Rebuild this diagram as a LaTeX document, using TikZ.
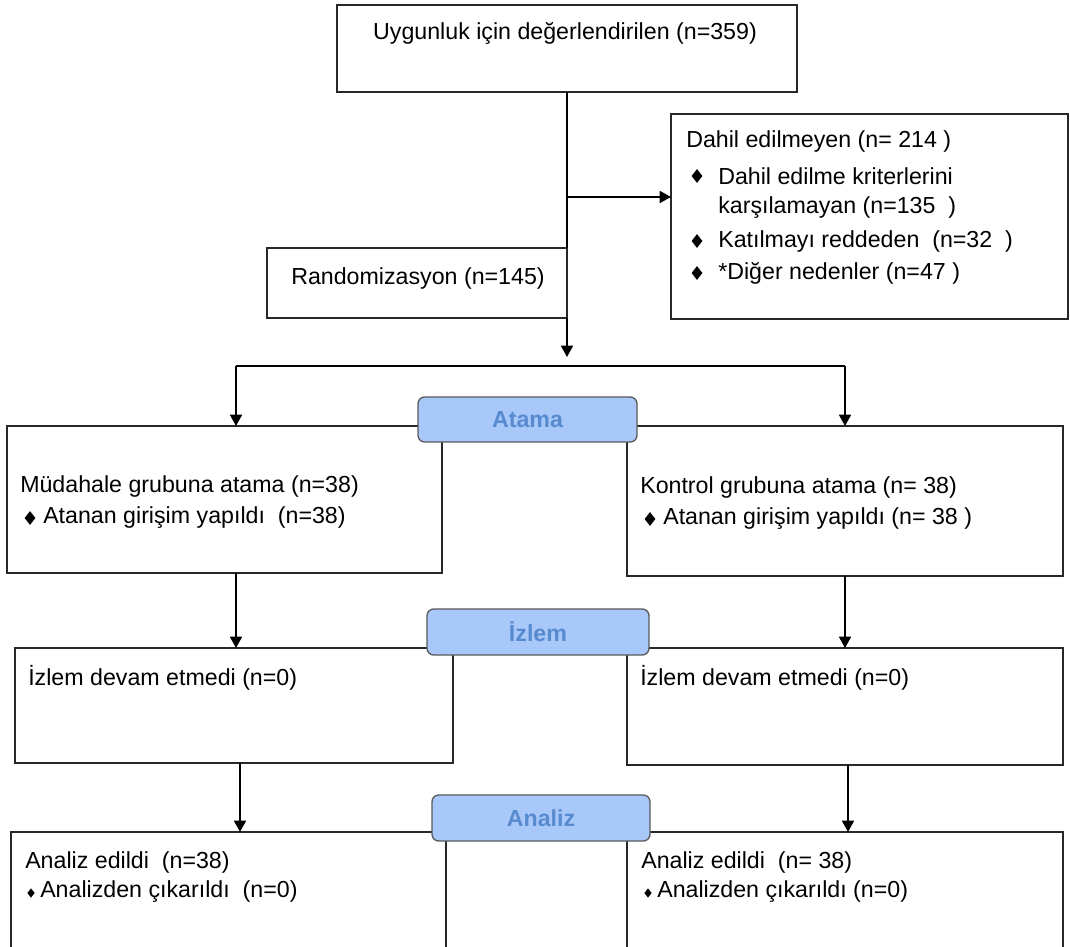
\documentclass[tikz,border=0pt]{standalone}
\usepackage{fontspec}
\setmainfont{Liberation Sans}
\usetikzlibrary{arrows.meta,shapes.geometric}
\definecolor{labfill}{RGB}{168,200,250}
\definecolor{labtext}{RGB}{88,138,208}
\definecolor{linecol}{RGB}{40,40,40}
\begin{document}
\begin{tikzpicture}[x=0.75pt,y=-0.75pt,
  font=\fontsize{17.4}{20}\selectfont,
  box/.style 2 args={draw=linecol,line width=1pt,inner sep=0pt,outer sep=0pt,minimum width=#1*0.75pt,minimum height=#2*0.75pt},
  lab/.style 2 args={draw=black!65,line width=1pt,fill=labfill,rounded corners=5pt,inner sep=0pt,outer sep=0pt,minimum width=#1*0.75pt,minimum height=#2*0.75pt,text=labtext,font=\fontsize{17.4}{20}\selectfont\bfseries},
  txt/.style={anchor=west,inner sep=0pt},
  bul/.style={diamond,fill=black,inner sep=0pt,minimum width=11*0.75pt,minimum height=14*0.75pt},
  sbul/.style={diamond,fill=black,inner sep=0pt,minimum width=7.5*0.75pt,minimum height=9.5*0.75pt},
  conn/.style={draw=black,line width=1.3pt},
  arr/.style={conn,-{Triangle[width=9pt,length=8.5pt]}}
]
\clip (0,0) rectangle (1070,946);
\useasboundingbox (0,0) rectangle (1070,946);

% boxes
\node[box={460}{87}] (top) at (567,48.5) {};
\node[box={397}{205}] (excl) at (869.5,216.5) {};
\node[box={300}{70}] (rand) at (417,283) {};
\node[box={435}{147}] (L1) at (224.5,499.5) {};
\node[box={436}{150}] (R1) at (845,501) {};
\node[box={438}{115}] (L2) at (234,705.5) {};
\node[box={436}{117}] (R2) at (845,706.5) {};
\node[box={435}{128}] (L3) at (228.5,896) {};
\node[box={436}{128}] (R3) at (845,896) {};

% stage labels
\node[lab={219}{45}] (atama) at (527.5,419.5) {Atama};
\node[lab={222}{46}] (izlem) at (538,632) {İzlem};
\node[lab={218}{46}] (analiz) at (541,818) {Analiz};

% texts
\node[inner sep=0pt] (t0) at (565,33) {Uygunluk için değerlendirilen (n=359)};
\node[txt] (e0) at (686,141) {Dahil edilmeyen (n= 214 )};
\node[bul] (eb1) at (697,176) {};
\node[txt] (e1) at (718,176) {Dahil edilme kriterlerini};
\node[txt] (e2) at (718,208) {karşılamayan (n=135\ \ )};
\node[bul] (eb3) at (697,241) {};
\node[txt] (e3) at (718,241) {Katılmayı reddeden\ \ (n=32\ \ )};
\node[bul] (eb4) at (697,273) {};
\node[txt] (e4) at (718,273) {*Diğer nedenler (n=47 )};
\node[inner sep=0pt] (tr) at (418,278) {Randomizasyon (n=145)};

\node[txt] (l1a) at (20,486) {Müdahale grubuna atama (n=38)};
\node[bul] (l1b) at (30,518) {};
\node[txt] (l1c) at (43,518) {Atanan girişim yapıldı\ \ (n=38)};
\node[txt] (r1a) at (640,487) {Kontrol grubuna atama (n= 38)};
\node[bul] (r1b) at (650,519) {};
\node[txt] (r1c) at (663,519) {Atanan girişim yapıldı (n= 38 )};

\node[txt] (l2a) at (28,678) {İzlem devam etmedi (n=0)};
\node[txt] (r2a) at (640,678) {İzlem devam etmedi (n=0)};

\node[txt] (l3a) at (25,862) {Analiz edildi\ \ (n=38)};
\node[sbul] (l3b) at (31,893) {};
\node[txt] (l3c) at (40,892) {Analizden çıkarıldı\ \ (n=0)};
\node[txt] (r3a) at (641,862) {Analiz edildi\ \ (n= 38)};
\node[sbul] (r3b) at (648,893) {};
\node[txt] (r3c) at (657,892) {Analizden çıkarıldı (n=0)};

% connectors
\coordinate (br) at (567,197);
\coordinate (a1) at (567,357);
\coordinate (s1) at (236,366);
\coordinate (s2) at (845,366);
\coordinate (d1) at (236,573);
\coordinate (d2) at (845,576);
\coordinate (f1) at (240,763);
\coordinate (f2) at (848,765);

\draw[conn] (top.south) -- (rand.north east);
\draw[arr] (br) -- (br -| excl.west);
\draw[arr] (rand.south east) -- (a1);
\draw[conn] (s1) -- (s2);
\draw[arr] (s1) -- (s1 |- L1.north);
\draw[arr] (s2) -- (s2 |- R1.north);
\draw[arr] (d1) -- (d1 |- L2.north);
\draw[arr] (d2) -- (d2 |- R2.north);
\draw[arr] (f1) -- (f1 |- L3.north);
\draw[arr] (f2) -- (f2 |- R3.north);
\end{tikzpicture}
\end{document}
